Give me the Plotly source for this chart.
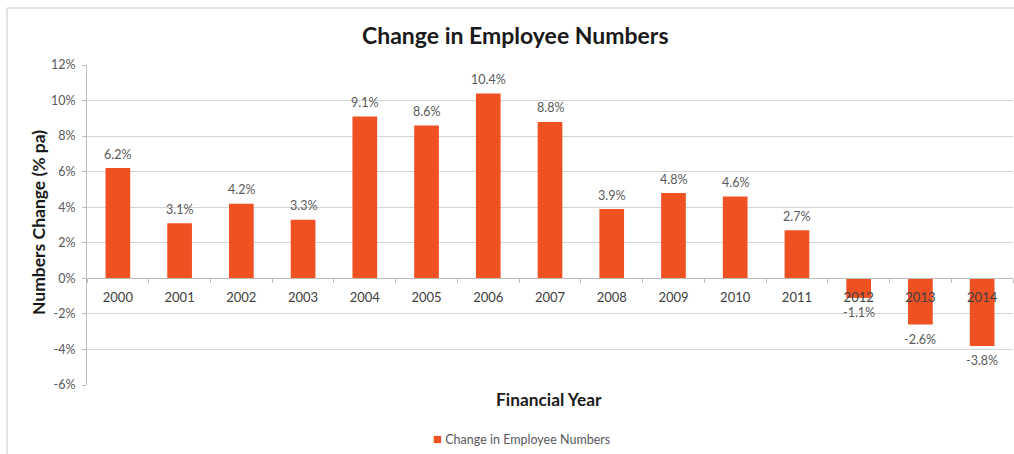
import plotly.graph_objects as go

# Financial years and yearly change in employee numbers (% per annum)
years = ["2000", "2001", "2002", "2003", "2004", "2005", "2006", "2007",
         "2008", "2009", "2010", "2011", "2012", "2013", "2014"]
change_pct = [6.2, 3.1, 4.2, 3.3, 9.1, 8.6, 10.4, 8.8,
              3.9, 4.8, 4.6, 2.7, -1.1, -2.6, -3.8]

y_ticks = [-6, -4, -2, 0, 2, 4, 6, 8, 10, 12]
y_tick_labels = [f"{v}%" for v in y_ticks]

SERIES = "Change in Employee Numbers"
BAR = "#EF5123"
GRID = "#d4d4d4"
TEXT = "#595959"
FONT = "Lato"

W, H = 1014, 454
ML, MR, MT, MB = 87, 1, 65, 69
pw, ph = W - ML - MR, H - MT - MB

def px_x(x):
    return (x - ML) / pw

def px_y(y):
    return (H - MB - y) / ph

fig = go.Figure()
fig.add_trace(go.Bar(
    x=years, y=change_pct, name=SERIES,
    marker=dict(color=BAR, line=dict(width=0)),
))

# value labels above positive bars, below negative ones
# (x given as the category index on the category axis)
annotations = []
for i, v in enumerate(change_pct):
    annotations.append(dict(
        x=i, y=v, xref="x", yref="y", text=f"{v:.1f}%", showarrow=False,
        xanchor="center", yanchor="middle",
        yshift=14 if v >= 0 else -15,
        font=dict(family=FONT, size=12.5, color=TEXT),
    ))

def paper_text(text, x, y, size, color="#1a1a1a", **kw):
    return dict(text=text, x=px_x(x), y=px_y(y), xref="paper", yref="paper",
                showarrow=False, yanchor="middle",
                font=dict(family=FONT, size=size, color=color), **kw)

annotations += [
    paper_text("<b>" + SERIES + "</b>", 515, 35, 23, xanchor="center"),
    paper_text("<b>Financial Year</b>", 549, 399, 17.3, xanchor="center"),
    paper_text("<b>Numbers Change (% pa)</b>", 38, 223, 17.5,
               xanchor="center", textangle=-90),
    # legend entry: colour key followed by the series name
    paper_text(f"<span style='color:{BAR};font-size:15px'>■</span> {SERIES}",
               431, 438, 12.5, color=TEXT, xanchor="left"),
]

# outer frame (top and left edges)
shapes = [
    dict(type="line", xref="paper", yref="paper",
         x0=px_x(7), y0=px_y(8), x1=px_x(1014), y1=px_y(8),
         line=dict(color="#c8c8c8", width=1)),
    dict(type="line", xref="paper", yref="paper",
         x0=px_x(7), y0=px_y(8), x1=px_x(7), y1=px_y(454),
         line=dict(color="#c8c8c8", width=1)),
]

fig.update_layout(
    width=W, height=H,
    margin=dict(l=ML, r=MR, t=MT, b=MB),
    paper_bgcolor="white", plot_bgcolor="white",
    bargap=0.6,
    font=dict(family=FONT, size=12, color=TEXT),
    annotations=annotations,
    shapes=shapes,
    showlegend=False,
    xaxis=dict(
        type="category", range=[-0.5, len(years) - 0.5],
        anchor="free", position=6 / 18,
        showline=True, linecolor="#bcbcbc", linewidth=1,
        ticks="outside", tickson="boundaries", ticklen=4, tickcolor="#bcbcbc",
        tickangle=0, ticklabelstandoff=7,
        tickfont=dict(family=FONT, size=13, color="#404040"),
        showgrid=False, fixedrange=True,
    ),
    yaxis=dict(
        range=[-6, 12], tickvals=y_ticks, ticktext=y_tick_labels,
        showgrid=True, gridcolor=GRID, gridwidth=1,
        zeroline=False,
        showline=True, linecolor="#bcbcbc", linewidth=1,
        ticks="outside", ticklen=4, tickcolor="#bcbcbc",
        ticklabelstandoff=4,
        tickfont=dict(family=FONT, size=12.5, color=TEXT),
        domain=[0, 1],
    ),
)

fig.write_html("out.html")
